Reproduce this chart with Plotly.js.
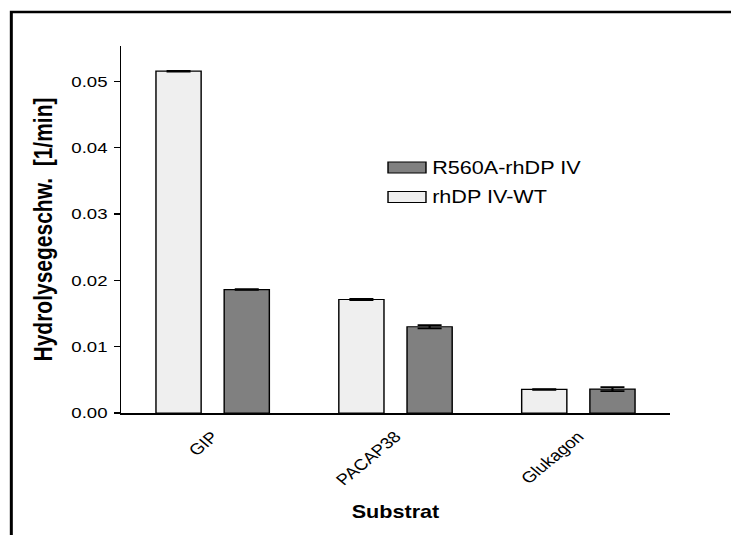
<!DOCTYPE html>
<html>
<head>
<meta charset="utf-8">
<script src="https://cdn.plot.ly/plotly-3.0.1.min.js"></script>
<style>
html,body{margin:0;padding:0;background:#fff;overflow:hidden;}
#wrap{width:731px;height:535px;overflow:hidden;position:relative;}
#chart{width:609px;height:535px;transform-origin:0 0;}
</style>
</head>
<body>
<div id="wrap"><div id="chart"></div></div>
<script>
// Data
const categories = ["GIP", "PACAP38", "Glukagon"];
const seriesWTName = "rhDP IV-WT";
const seriesMutName = "R560A-rhDP IV";
const valuesWT = [0.0515, 0.0171, 0.00355];
const errorsWT = [0.00005, 0.00008, 0.00005];
const valuesMut = [0.0186, 0.0130, 0.0036];
const errorsMut = [0.00005, 0.00025, 0.0003];
const yTickVals = [0, 0.01, 0.02, 0.03, 0.04, 0.05];
const yTickText = ["0.00", "0.01", "0.02", "0.03", "0.04", "0.05"];

// The reference has horizontally widened lettering; draw at a narrower width and stretch.
const OUT_W = 731, H = 535;
const W = 609;
const S = OUT_W / W;
document.getElementById("chart").style.transform = "scaleX(" + S + ")";

const M = {l: 121 / S, r: W - 670 / S, t: 46, b: H - 413};
const pw = W - M.l - M.r, ph = H - M.t - M.b;
const px2x = p => (p / S - M.l) / pw;   // p: outer pixel x
const py2y = p => (H - M.b - p) / ph;   // p: pixel y

const font = "Liberation Sans, Arial, sans-serif";
const colWT = "#efefef", colMut = "#808080";

const traceWT = {
  type: "bar", name: seriesWTName, x: categories, y: valuesWT,
  width: 0.247, offset: -0.31, showlegend: false,
  marker: {color: colWT, line: {color: "#000", width: 1.2}},
  error_y: {type: "data", array: errorsWT, visible: true, color: "#000", thickness: 1.8, width: 10}
};
const traceMut = {
  type: "bar", name: seriesMutName, x: categories, y: valuesMut,
  width: 0.247, offset: 0.063, showlegend: false,
  marker: {color: colMut, line: {color: "#000", width: 1.2}},
  error_y: {type: "data", array: errorsMut, visible: true, color: "#000", thickness: 1.8, width: 10}
};

// Legend built from the series names and colours
const legendItems = [
  {name: seriesMutName, color: colMut, yc: 167.5},
  {name: seriesWTName, color: colWT, yc: 197}
];
const legendShapes = legendItems.map(it => ({
  type: "rect", xref: "paper", yref: "paper",
  x0: px2x(388), x1: px2x(426), y0: py2y(it.yc + 5.5), y1: py2y(it.yc - 5.5),
  fillcolor: it.color, line: {color: "#000", width: 1.2}
}));
const legendAnn = legendItems.map(it => ({
  xref: "paper", yref: "paper", x: px2x(430), y: py2y(it.yc),
  xanchor: "left", yanchor: "middle", showarrow: false,
  text: it.name, font: {family: font, size: 18, color: "#000"}
}));

const layout = {
  width: W, height: H,
  margin: M,
  paper_bgcolor: "#fff", plot_bgcolor: "#fff",
  font: {family: font, color: "#000", size: 15},
  showlegend: false,
  xaxis: {
    type: "category", range: [-0.5, 2.5],
    showline: true, linecolor: "#000", linewidth: 1.5,
    ticks: "", showgrid: false, zeroline: false,
    tickangle: -45, tickfont: {family: font, size: 15.5, color: "#000"},
    ticklabelstandoff: 7,
    title: {text: "<b>Substrat</b>", font: {family: font, size: 18, color: "#000"}, standoff: 18}
  },
  yaxis: {
    range: [0, 0.0553],
    showline: true, linecolor: "#000", linewidth: 1.3,
    ticks: "outside", ticklen: 5, tickwidth: 1.3, tickcolor: "#000",
    tickvals: yTickVals, ticktext: yTickText,
    showgrid: false, zeroline: false, ticklabelstandoff: 2,
    tickfont: {family: font, size: 15.5, color: "#000"},
    title: {text: "<b>Hydrolysegeschw.  [1/min]</b>", font: {family: font, size: 21, color: "#000"}, standoff: 9}
  },
  annotations: legendAnn,
  shapes: [{
    type: "rect", xref: "paper", yref: "paper",
    x0: px2x(11), x1: px2x(760), y0: py2y(560), y1: py2y(12),
    line: {color: "#000", width: 2.5}, fillcolor: "rgba(0,0,0,0)", layer: "below"
  }].concat(legendShapes)
};

Plotly.newPlot("chart", [traceWT, traceMut], layout, {displayModeBar: false, staticPlot: true});
</script>
</body>
</html>
